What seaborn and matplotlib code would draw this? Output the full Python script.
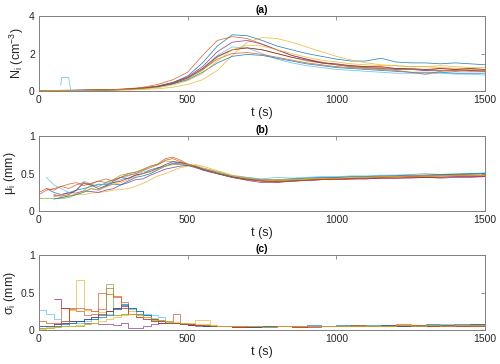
import numpy as np
import pandas as pd
import matplotlib
matplotlib.use("Agg")
import matplotlib.pyplot as plt
import seaborn as sns

sns.set_style("white")
plt.rcParams["font.family"] = ["Liberation Sans", "DejaVu Sans"]
plt.rcParams["mathtext.fontset"] = "custom"
plt.rcParams["mathtext.rm"] = "Liberation Sans"
plt.rcParams["mathtext.it"] = "Liberation Sans:italic"

nan = np.nan
# MATLAB default line colours, 10 runs
colors = ["#0072BD", "#D95319", "#EDB120", "#7E2F8E", "#77AC30",
          "#4DBEEE", "#A2142F", "#0072BD", "#D95319", "#EDB120"]

# time grids (s)
t_a = list(range(0, 1501, 50))
t_bc = list(range(0, 601, 25)) + list(range(650, 1501, 50))

# (a) number concentration N_i (cm^-3)
N = [
    [0.02, 0.02, 0.03, 0.03, 0.04, 0.06, 0.09, 0.15, 0.25, 0.45, 0.8, 1.5, 2.4, 3.0, 2.95, 2.7, 2.4, 2.2, 2.0, 1.85, 1.7, 1.6, 1.6, 1.75, 1.55, 1.5, 1.5, 1.45, 1.5, 1.45, 1.4],
    [0.03, 0.03, 0.04, 0.05, 0.06, 0.08, 0.12, 0.2, 0.35, 0.6, 1.0, 1.9, 2.7, 2.9, 2.8, 2.5, 2.2, 1.9, 1.7, 1.55, 1.4, 1.35, 1.3, 1.25, 1.2, 1.15, 1.1, 1.2, 1.15, 1.1, 1.1],
    [0.01, 0.01, 0.02, 0.02, 0.03, 0.04, 0.05, 0.08, 0.12, 0.2, 0.35, 0.6, 1.1, 1.9, 2.6, 2.85, 2.8, 2.6, 2.35, 2.1, 1.85, 1.65, 1.5, 1.4, 1.35, 1.3, 1.3, 1.25, 1.2, 1.2, 1.15],
    [0.02, 0.02, 0.03, 0.04, 0.05, 0.07, 0.1, 0.16, 0.26, 0.45, 0.75, 1.3, 2.1, 2.6, 2.7, 2.5, 2.2, 1.9, 1.7, 1.5, 1.4, 1.3, 1.25, 1.2, 1.15, 1.15, 1.1, 1.1, 1.05, 1.1, 1.05],
    [0.02, 0.02, 0.03, 0.03, 0.05, 0.06, 0.09, 0.14, 0.22, 0.38, 0.65, 1.1, 1.8, 2.2, 2.3, 2.2, 2.0, 1.8, 1.6, 1.5, 1.4, 1.3, 1.25, 1.2, 1.2, 1.15, 1.15, 1.1, 1.1, 1.15, 1.1],
    [nan, nan, nan, 0.02, 0.03, 0.05, 0.08, 0.13, 0.22, 0.4, 0.7, 1.2, 1.9, 2.35, 2.3, 2.0, 1.7, 1.5, 1.35, 1.25, 1.15, 1.1, 1.05, 1.0, 0.95, 0.95, 0.9, 0.95, 0.9, 0.9, 0.85],
    [0.02, 0.03, 0.03, 0.04, 0.05, 0.07, 0.1, 0.15, 0.24, 0.42, 0.7, 1.2, 1.85, 2.2, 2.3, 2.2, 2.0, 1.8, 1.65, 1.5, 1.45, 1.35, 1.3, 1.3, 1.2, 1.2, 1.15, 1.2, 1.15, 1.2, 1.15],
    [0.02, 0.02, 0.03, 0.04, 0.05, 0.06, 0.09, 0.14, 0.22, 0.38, 0.6, 1.0, 1.5, 1.85, 1.95, 1.9, 1.75, 1.6, 1.45, 1.35, 1.25, 1.2, 1.15, 1.1, 1.05, 1.0, 1.0, 1.0, 0.95, 0.95, 0.95],
    [0.03, 0.03, 0.04, 0.05, 0.06, 0.08, 0.11, 0.17, 0.27, 0.45, 0.72, 1.15, 1.7, 2.0, 2.05, 1.95, 1.8, 1.65, 1.5, 1.4, 1.3, 1.25, 1.2, 1.15, 1.1, 1.0, 0.9, 1.05, 1.1, 1.05, 1.05],
    [0.01, 0.02, 0.02, 0.03, 0.04, 0.05, 0.07, 0.11, 0.18, 0.32, 0.55, 0.95, 1.6, 2.2, 2.45, 2.4, 2.2, 2.0, 1.8, 1.65, 1.55, 1.45, 1.4, 1.35, 1.35, 1.3, 1.3, 1.35, 1.3, 1.25, 1.25],
]
# early short burst of run 6
spike_t = [73, 76, 100, 107, 150]
spike_n = [0.3, 0.72, 0.72, 0.0, 0.02]

# (b) mean diameter mu_i (mm)
mu = [
    [nan, 0.3, 0.25, 0.22, 0.24, 0.28, 0.3, 0.33, 0.36, 0.35, 0.4, 0.45, 0.43, 0.48, 0.5, 0.55, 0.58, 0.6, 0.63, 0.64, 0.62, 0.6, 0.57, 0.55, 0.52, 0.47, 0.44, 0.42, 0.41, 0.42, 0.43, 0.44, 0.45, 0.44, 0.45, 0.46, 0.46, 0.47, 0.47, 0.48, 0.48, 0.49, 0.5],
    [0.25, 0.3, 0.28, 0.33, 0.36, 0.38, 0.34, 0.37, 0.4, 0.38, 0.42, 0.45, 0.5, 0.52, 0.55, 0.6, 0.63, 0.7, 0.72, 0.68, 0.63, 0.6, 0.56, 0.54, 0.51, 0.46, 0.43, 0.41, 0.4, 0.41, 0.42, 0.43, 0.44, 0.44, 0.45, 0.46, 0.47, 0.47, 0.48, 0.48, 0.49, 0.48, 0.48],
    [nan, nan, 0.2, 0.18, 0.2, 0.22, 0.22, 0.24, 0.25, 0.26, 0.28, 0.29, 0.3, 0.33, 0.37, 0.42, 0.47, 0.5, 0.54, 0.58, 0.6, 0.62, 0.6, 0.57, 0.54, 0.48, 0.45, 0.42, 0.4, 0.41, 0.42, 0.42, 0.43, 0.43, 0.44, 0.45, 0.45, 0.46, 0.46, 0.46, 0.47, 0.47, 0.47],
    [nan, nan, 0.2, 0.22, 0.25, 0.24, 0.27, 0.26, 0.25, 0.28, 0.3, 0.35, 0.38, 0.42, 0.43, 0.48, 0.52, 0.56, 0.58, 0.6, 0.61, 0.59, 0.55, 0.52, 0.5, 0.45, 0.41, 0.38, 0.38, 0.4, 0.41, 0.42, 0.43, 0.43, 0.43, 0.44, 0.44, 0.44, 0.45, 0.44, 0.45, 0.45, 0.46],
    [0.17, 0.17, 0.17, 0.17, 0.18, 0.22, 0.27, 0.35, 0.33, 0.38, 0.42, 0.48, 0.5, 0.52, 0.56, 0.6, 0.62, 0.67, 0.66, 0.64, 0.62, 0.59, 0.56, 0.53, 0.51, 0.46, 0.43, 0.4, 0.4, 0.41, 0.42, 0.43, 0.44, 0.44, 0.45, 0.45, 0.46, 0.46, 0.46, 0.47, 0.47, 0.47, 0.47],
    [nan, 0.45, 0.35, 0.3, 0.25, 0.27, 0.4, 0.36, 0.33, 0.37, 0.38, 0.42, 0.47, 0.5, 0.52, 0.55, 0.57, 0.6, 0.64, 0.65, 0.63, 0.6, 0.57, 0.55, 0.52, 0.47, 0.45, 0.43, 0.45, 0.44, 0.45, 0.46, 0.46, 0.47, 0.47, 0.48, 0.48, 0.49, 0.5, 0.49, 0.5, 0.5, 0.51],
    [nan, nan, 0.22, 0.2, 0.22, 0.28, 0.37, 0.35, 0.3, 0.34, 0.38, 0.4, 0.44, 0.48, 0.5, 0.53, 0.57, 0.62, 0.66, 0.65, 0.62, 0.6, 0.56, 0.53, 0.5, 0.45, 0.42, 0.4, 0.39, 0.4, 0.41, 0.42, 0.42, 0.43, 0.43, 0.44, 0.44, 0.45, 0.45, 0.45, 0.46, 0.46, 0.46],
    [nan, nan, 0.16, 0.18, 0.2, 0.22, 0.25, 0.3, 0.28, 0.33, 0.36, 0.35, 0.4, 0.45, 0.47, 0.5, 0.55, 0.6, 0.63, 0.62, 0.61, 0.58, 0.55, 0.53, 0.5, 0.46, 0.43, 0.42, 0.42, 0.43, 0.44, 0.45, 0.45, 0.46, 0.46, 0.47, 0.47, 0.48, 0.48, 0.49, 0.49, 0.5, 0.5],
    [0.22, 0.28, 0.3, 0.33, 0.3, 0.35, 0.38, 0.36, 0.4, 0.43, 0.4, 0.45, 0.48, 0.5, 0.54, 0.58, 0.62, 0.68, 0.7, 0.66, 0.62, 0.59, 0.56, 0.53, 0.5, 0.45, 0.42, 0.4, 0.39, 0.4, 0.41, 0.42, 0.43, 0.43, 0.44, 0.45, 0.46, 0.46, 0.47, 0.47, 0.48, 0.47, 0.47],
    [nan, nan, 0.2, 0.22, 0.2, 0.23, 0.26, 0.3, 0.28, 0.32, 0.36, 0.38, 0.42, 0.46, 0.5, 0.52, 0.56, 0.6, 0.62, 0.63, 0.62, 0.61, 0.58, 0.55, 0.53, 0.47, 0.44, 0.42, 0.42, 0.42, 0.43, 0.44, 0.44, 0.45, 0.45, 0.46, 0.46, 0.47, 0.47, 0.47, 0.48, 0.48, 0.48],
]

# (c) spread sigma_i (mm)
sigma = [
    [nan, nan, 0.08, 0.1, 0.12, 0.12, 0.15, 0.18, 0.2, 0.25, 0.3, 0.33, 0.3, 0.22, 0.2, 0.15, 0.13, 0.12, 0.1, 0.1, 0.08, 0.07, 0.06, 0.06, 0.05, 0.05, 0.06, 0.05, 0.06, 0.06, 0.07, 0.06, 0.06, 0.07, 0.06, 0.07, 0.06, 0.07, 0.08, 0.07, 0.07, 0.08, 0.08],
    [0.12, 0.1, 0.08, 0.3, 0.28, 0.25, 0.2, 0.22, 0.28, 0.56, 0.44, 0.38, 0.3, 0.25, 0.18, 0.15, 0.12, 0.12, 0.21, 0.1, 0.08, 0.07, 0.06, 0.05, 0.05, 0.04, 0.05, 0.04, 0.06, 0.05, 0.06, 0.05, 0.06, 0.07, 0.06, 0.07, 0.08, 0.06, 0.07, 0.06, 0.07, 0.08, 0.07],
    [0.03, 0.04, 0.05, 0.06, 0.27, 0.67, 0.27, 0.25, 0.24, 0.22, 0.2, 0.22, 0.25, 0.2, 0.18, 0.15, 0.12, 0.1, 0.1, 0.09, 0.08, 0.13, 0.13, 0.07, 0.06, 0.05, 0.04, 0.04, 0.05, 0.04, 0.05, 0.06, 0.05, 0.06, 0.07, 0.06, 0.05, 0.07, 0.06, 0.07, 0.06, 0.07, 0.07],
    [0.05, 0.06, 0.08, 0.1, 0.1, 0.12, 0.1, 0.1, 0.08, 0.08, 0.07, 0.1, 0.03, 0.03, 0.05, 0.08, 0.1, 0.1, 0.09, 0.08, 0.07, 0.06, 0.06, 0.05, 0.05, 0.05, 0.04, 0.04, 0.05, 0.05, 0.04, 0.05, 0.05, 0.06, 0.05, 0.05, 0.06, 0.06, 0.05, 0.06, 0.07, 0.06, 0.07],
    [0.03, 0.03, 0.04, 0.05, 0.06, 0.06, 0.08, 0.1, 0.2, 0.61, 0.2, 0.22, 0.3, 0.25, 0.18, 0.14, 0.12, 0.11, 0.1, 0.09, 0.08, 0.07, 0.07, 0.06, 0.06, 0.05, 0.05, 0.06, 0.05, 0.05, 0.06, 0.05, 0.06, 0.06, 0.07, 0.06, 0.06, 0.07, 0.06, 0.07, 0.07, 0.06, 0.07],
    [0.27, 0.22, 0.15, 0.12, 0.1, 0.1, 0.12, 0.15, 0.2, 0.25, 0.28, 0.3, 0.28, 0.25, 0.22, 0.2, 0.18, 0.12, 0.1, 0.09, 0.08, 0.07, 0.07, 0.06, 0.05, 0.05, 0.05, 0.06, 0.05, 0.06, 0.07, 0.06, 0.06, 0.06, 0.07, 0.06, 0.07, 0.06, 0.07, 0.08, 0.07, 0.08, 0.08],
    [nan, nan, 0.42, 0.3, 0.12, 0.12, 0.15, 0.18, 0.22, 0.25, 0.3, 0.32, 0.22, 0.18, 0.15, 0.12, 0.1, 0.09, 0.09, 0.08, 0.07, 0.07, 0.06, 0.05, 0.05, 0.04, 0.04, 0.04, 0.05, 0.04, 0.05, 0.05, 0.05, 0.05, 0.06, 0.05, 0.06, 0.06, 0.05, 0.06, 0.06, 0.07, 0.07],
    [0.05, 0.05, 0.06, 0.08, 0.1, 0.12, 0.15, 0.15, 0.18, 0.2, 0.28, 0.35, 0.3, 0.25, 0.2, 0.15, 0.12, 0.1, 0.1, 0.08, 0.08, 0.07, 0.06, 0.06, 0.05, 0.05, 0.04, 0.05, 0.05, 0.06, 0.05, 0.06, 0.07, 0.06, 0.06, 0.07, 0.06, 0.06, 0.07, 0.07, 0.08, 0.08, 0.07],
    [nan, nan, 0.1, 0.12, 0.3, 0.3, 0.28, 0.25, 0.5, 0.48, 0.45, 0.3, 0.22, 0.18, 0.15, 0.12, 0.12, 0.1, 0.09, 0.08, 0.08, 0.07, 0.07, 0.06, 0.05, 0.05, 0.05, 0.04, 0.05, 0.06, 0.05, 0.06, 0.06, 0.05, 0.06, 0.06, 0.07, 0.07, 0.06, 0.07, 0.07, 0.06, 0.07],
    [0.02, 0.03, 0.04, 0.05, 0.06, 0.07, 0.08, 0.1, 0.12, 0.15, 0.18, 0.2, 0.22, 0.2, 0.18, 0.16, 0.14, 0.12, 0.11, 0.1, 0.09, 0.08, 0.08, 0.07, 0.06, 0.05, 0.05, 0.04, 0.05, 0.05, 0.05, 0.06, 0.05, 0.06, 0.06, 0.06, 0.07, 0.06, 0.07, 0.06, 0.07, 0.07, 0.07],
]


def long_df(t, series):
    rows = []
    for k, ys in enumerate(series):
        for tt, y in zip(t, ys):
            if not np.isnan(y):
                rows.append((tt, y, k))
    return pd.DataFrame(rows, columns=["t", "v", "run"])


df_a = long_df(t_a, N)
df_a = pd.concat([df_a, pd.DataFrame({"t": spike_t, "v": spike_n, "run": 10})])
df_b = long_df(t_bc, mu)
df_c = long_df(t_bc, sigma)

fig = plt.figure(figsize=(5, 3.64), dpi=100)
pos = [[0.078, 0.75, 0.892, 0.206],
       [0.078, 0.42, 0.892, 0.206],
       [0.078, 0.093, 0.892, 0.206]]
panels = [
    (df_a, colors + ["#4DBEEE"], (0, 4), [0, 2, 4], ["0", "2", "4"],
     "N$_\\mathrm{i}$ (cm$^{-3}$)", "(a)", "default"),
    (df_b, colors, (0, 1), [0, 0.5, 1], ["0", "0.5", "1"],
     "μ$_\\mathrm{i}$ (mm)", "(b)", "default"),
    (df_c, colors, (0, 1), [0, 0.5, 1], ["0", "0.5", "1"],
     "σ$_\\mathrm{i}$ (mm)", "(c)", "steps-post"),
]
axcol = "#808080"
txtcol = "#262626"
for p, (df, pal, ylim, yt, ytl, ylab, ttl, ds) in zip(pos, panels):
    ax = fig.add_axes(p)
    sns.lineplot(data=df, x="t", y="v", hue="run", palette=pal,
                 estimator=None, legend=False, lw=0.55, alpha=0.85, ax=ax,
                 drawstyle=ds)
    ax.set_xlim(0, 1500)
    ax.set_ylim(*ylim)
    ax.set_xticks([0, 500, 1000, 1500])
    ax.set_yticks(yt)
    ax.set_yticklabels(ytl)
    ax.tick_params(direction="in", length=3, width=0.6, color=axcol,
                   labelsize=7.5, labelcolor=txtcol, top=True, right=True,
                   pad=3)
    for s in ax.spines.values():
        s.set_color(axcol)
        s.set_linewidth(0.7)
    ax.set_xlabel("t (s)", fontsize=9, color=txtcol, labelpad=1)
    ax.set_ylabel(ylab, fontsize=9, color=txtcol, labelpad=2)
    ax.set_title(ttl, fontsize=7.5, fontweight="bold", color="black", pad=2)

fig.savefig("out.png", dpi=100)
